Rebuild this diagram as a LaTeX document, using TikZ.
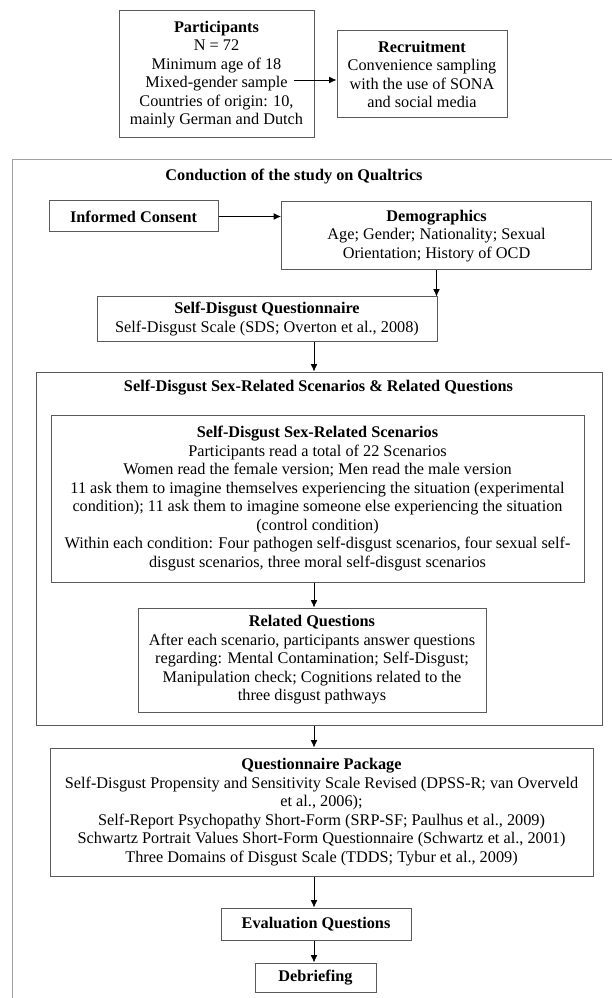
\documentclass[tikz,border=0pt]{standalone}
\usepackage{fontspec}
\setmainfont{Liberation Serif}
\usetikzlibrary{arrows.meta}
\definecolor{boxline}{HTML}{5A5A5A}
\definecolor{framegray}{HTML}{A0A0A0}
\begin{document}
\begin{tikzpicture}[x=0.75pt,y=-0.75pt,
  box/.style={draw=boxline, line width=0.75pt, inner sep=0pt, align=center,
    font=\fontsize{12.2}{13.9}\selectfont},
  lbl/.style={inner sep=0pt, align=center, font=\fontsize{12.2}{13.9}\selectfont\bfseries},
  arr/.style={-{Latex[length=5.5pt,width=5pt]}, line width=0.6pt, black}]
\useasboundingbox (0,0) rectangle (611,998);
\fill[white] (0,0) rectangle (611,998);

% outer frame (continues beyond the right and bottom edges)
\draw[framegray, line width=1.2pt] (625,159.5) -- (12.5,159.5) -- (12.5,1012);

\coordinate (col) at (314,0);

\node[box, minimum width=146.25pt, minimum height=95.25pt] (part) at (216.5,74.5)
  {\textbf{Participants}\\N = 72\\Minimum age of 18\\Mixed-gender sample\\Countries of origin: 10,\\mainly German and Dutch};
\node[box, minimum width=127.5pt, minimum height=65.25pt] (recr) at (422,74.5)
  {\textbf{Recruitment}\\Convenience sampling\\with the use of SONA\\and social media};
\coordinate (pa) at (294,80);
\draw[arr] (pa) -- (pa -| recr.west);

\node[lbl] (title) at (294,177) {Conduction of the study on Qualtrics};

\node[box, minimum width=126.75pt, minimum height=23.25pt] (cons) at (133.5,216.5)
  {\textbf{Informed Consent}};
\node[box, minimum width=232.5pt, minimum height=51pt] (demo) at (436.5,236)
  {\textbf{Demographics}\\Age; Gender; Nationality; Sexual\\Orientation; History of OCD};
\draw[arr] (cons.east) -- (cons.east -| demo.west);

\node[box, minimum width=255pt, minimum height=33pt] (sdq) at (267,319)
  {\textbf{Self-Disgust Questionnaire}\\Self-Disgust Scale (SDS; Overton et al., 2008)};
\draw[arr] (demo.south) -- (demo.south |- sdq.north);

\node[box, minimum width=424.5pt, minimum height=264.75pt] (scen) at (319,548.5) {};
\node[lbl] (scentitle) at (318.5,388) {Self-Disgust Sex-Related Scenarios \& Related Questions};
\draw[arr] (sdq.south -| col) -- (scen.north -| col);

\node[box, minimum width=399.75pt, minimum height=125.25pt] (inner) at (317.5,498.5)
  {\textbf{Self-Disgust Sex-Related Scenarios}\\Participants read a total of 22 Scenarios\\Women read the female version; Men read the male version\\11 ask them to imagine themselves experiencing the situation (experimental\\condition); 11 ask them to imagine someone else experiencing the situation\\(control condition)\\Within each condition: Four pathogen self-disgust scenarios, four sexual self-\\disgust scenarios, three moral self-disgust scenarios};

\node[box, minimum width=261pt, minimum height=78pt] (rq) at (312,660)
  {\textbf{Related Questions}\\After each scenario, participants answer questions\\regarding: Mental Contamination; Self-Disgust;\\Manipulation check; Cognitions related to the\\three disgust pathways};
\draw[arr] (inner.south -| col) -- (rq.north -| col);

\node[box, minimum width=407.25pt, minimum height=96pt] (qp) at (321.5,812)
  {\textbf{Questionnaire Package}\\Self-Disgust Propensity and Sensitivity Scale Revised (DPSS-R; van Overveld\\et al., 2006);\\Self-Report Psychopathy Short-Form (SRP-SF; Paulhus et al., 2009)\\Schwartz Portrait Values Short-Form Questionnaire (Schwartz et al., 2001)\\Three Domains of Disgust Scale (TDDS; Tybur et al., 2009)};
\draw[arr] (scen.south -| col) -- (qp.north -| col);

\node[box, minimum width=142.5pt, minimum height=24pt] (eval) at (316,924)
  {\textbf{Evaluation Questions}};
\draw[arr] (qp.south -| col) -- (eval.north -| col);

\node[box, minimum width=90.75pt, minimum height=21.75pt] (deb) at (315.5,977.5)
  {\textbf{Debriefing}};
\draw[arr] (eval.south -| col) -- (deb.north -| col);
\end{tikzpicture}
\end{document}
